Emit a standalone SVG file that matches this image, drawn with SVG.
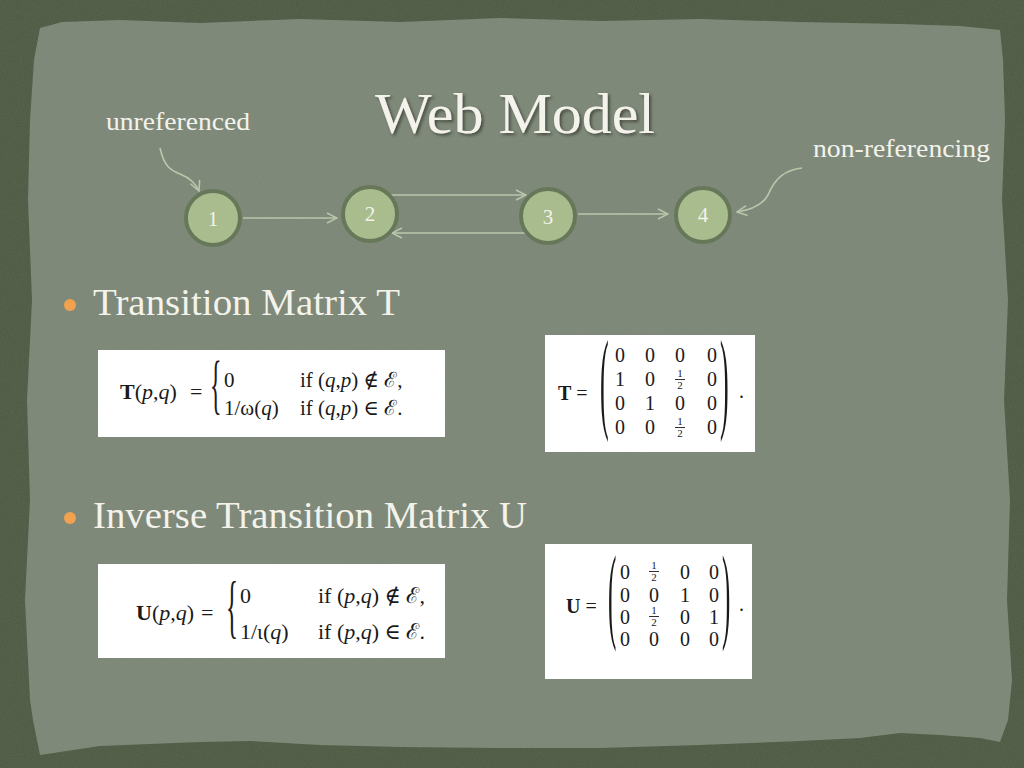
<svg xmlns="http://www.w3.org/2000/svg" width="1024" height="768" viewBox="0 0 1024 768">
<defs>
<style>
.lbl{font-family:"Liberation Serif","DejaVu Serif",serif;fill:#f3f3ec}
.num{font-family:"Liberation Serif","DejaVu Serif",serif;fill:#f3f3ec;font-size:21px;text-anchor:middle}
.node circle{fill:#a8bc8d;stroke:#67785a;stroke-width:4}
.edge{fill:none;stroke:#b9c7ab;stroke-width:1.6}
.box{fill:#ffffff}
.m{font-family:"Liberation Serif","DejaVu Serif",serif;fill:#1a1a1a}
.mc{font-family:"Liberation Serif","DejaVu Serif",serif;fill:#1a1a1a;font-size:20px;text-anchor:middle}
.fr{font-family:"Liberation Serif","DejaVu Serif",serif;fill:#1a1a1a;font-size:11px;text-anchor:middle}
.i{font-style:italic}
.b{font-weight:bold}
</style>
<marker id="ah" viewBox="0 0 12 12" refX="11" refY="6" markerWidth="12" markerHeight="12" markerUnits="userSpaceOnUse" orient="auto">
<path d="M1,1 L11,6 L1,11" fill="none" stroke="#b9c7ab" stroke-width="1.5"/>
</marker>
<filter id="tex" x="0" y="0" width="100%" height="100%">
<feTurbulence type="fractalNoise" baseFrequency="0.9" numOctaves="3" seed="4"/>
<feColorMatrix type="matrix" values="0 0 0 0 0.35  0 0 0 0 0.4  0 0 0 0 0.33  0 0 0 -1.6 1.1"/>
</filter>
<filter id="sh" x="-10%" y="-10%" width="120%" height="130%">
<feDropShadow dx="2" dy="2" stdDeviation="1.5" flood-color="#2f3528" flood-opacity="0.7"/>
</filter>
</defs>

<rect width="1024" height="768" fill="#505c45"/>
<path id="paper" d="M40,28 L62,22 L120,20 L200,23 L300,19 L400,22 L500,18 L600,21 L700,19 L800,22 L900,24 L960,26 L1000,30 L1003,60 L1005,120 L1002,200 L1008,300 L1004,400 L1010,500 L1007,600 L1012,680 L1008,720 L1000,742 L980,738 L940,735 L900,733 L860,738 L800,741 L700,745 L600,748 L500,748 L400,747 L320,745 L250,741 L200,742 L150,744 L100,746 L60,752 L40,755 L33,720 L30,700 L25,600 L30,500 L27,400 L32,300 L28,200 L30,120 L34,60 Z" fill="#7e8878"/>
<rect width="1024" height="768" filter="url(#tex)" opacity="0.12"/>

<text class="lbl" x="375" y="133" font-size="58" filter="url(#sh)" textLength="280" lengthAdjust="spacingAndGlyphs">Web Model</text>
<text class="lbl" x="106" y="130" font-size="26" textLength="144" lengthAdjust="spacingAndGlyphs">unreferenced</text>
<text class="lbl" x="813" y="157" font-size="26" textLength="177" lengthAdjust="spacingAndGlyphs">non-referencing</text>

<g id="connectors">
<path class="edge" d="M243,218 L337,218" marker-end="url(#ah)"/>
<path class="edge" d="M390,195 L526,195" marker-end="url(#ah)"/>
<path class="edge" d="M526,233 L392,233" marker-end="url(#ah)"/>
<path class="edge" d="M578,214 L668,214" marker-end="url(#ah)"/>
<path class="edge" d="M160,148 C164,166 170,170 180,174 C190,178 196,184 199,191" marker-end="url(#ah)"/>
<path class="edge" d="M802,168 C785,170 775,178 768,195 C762,206 750,210 737,212" marker-end="url(#ah)"/>
</g>

<g id="node1" class="node"><circle cx="213" cy="218" r="27"/><text class="num" x="213" y="226">1</text></g>
<g id="node2" class="node"><circle cx="370" cy="214" r="27"/><text class="num" x="370" y="221">2</text></g>
<g id="node3" class="node"><circle cx="548" cy="216" r="27"/><text class="num" x="548" y="224">3</text></g>
<g id="node4" class="node"><circle cx="703" cy="215" r="27"/><text class="num" x="703" y="222">4</text></g>

<circle cx="70" cy="305" r="6" fill="#f2a24e"/>
<text class="lbl" x="93" y="315" font-size="37" textLength="307" lengthAdjust="spacingAndGlyphs">Transition Matrix T</text>
<circle cx="70" cy="518" r="6" fill="#f2a24e"/>
<text class="lbl" x="93" y="528" font-size="37" textLength="434" lengthAdjust="spacingAndGlyphs">Inverse Transition Matrix U</text>

<g id="formulaT">
<rect class="box" x="98" y="350" width="347" height="87"/>
<text class="m" x="120" y="399" font-size="22"><tspan class="b">T</tspan>(<tspan class="i">p</tspan>,<tspan class="i">q</tspan>)</text>
<text class="m" x="190" y="399" font-size="22">=</text>
<text class="m" font-size="24" transform="translate(210,406) scale(1,2.7)">{</text>
<text class="m" x="224" y="387" font-size="21">0</text>
<text class="m" x="300" y="387" font-size="21">if (<tspan class="i">q</tspan>,<tspan class="i">p</tspan>) ∉ ℰ,</text>
<text class="m" x="224" y="415" font-size="21">1/ω(<tspan class="i">q</tspan>)</text>
<text class="m" x="300" y="415" font-size="21">if (<tspan class="i">q</tspan>,<tspan class="i">p</tspan>) ∈ ℰ.</text>
</g>

<g id="matrixT">
<rect class="box" x="545" y="335" width="210" height="117"/>
<text class="m" x="558" y="400" font-size="20"><tspan class="b">T</tspan> =</text>
<text class="m" font-size="26" transform="translate(600,418) scale(1,4.3)">(</text>
<text class="m" font-size="26" transform="translate(720,418) scale(1,4.3)">)</text>
<text class="m" x="739" y="398" font-size="20">.</text>
<text class="mc" x="620" y="362">0</text><text class="mc" x="650" y="362">0</text><text class="mc" x="680" y="362">0</text><text class="mc" x="712" y="362">0</text>
<text class="mc" x="620" y="386">1</text><text class="mc" x="650" y="386">0</text><text class="fr" x="680" y="377">1</text><line x1="675" y1="379.5" x2="685" y2="379.5" stroke="#1a1a1a" stroke-width="0.9"/><text class="fr" x="680" y="389">2</text><text class="mc" x="712" y="386">0</text>
<text class="mc" x="620" y="410">0</text><text class="mc" x="650" y="410">1</text><text class="mc" x="680" y="410">0</text><text class="mc" x="712" y="410">0</text>
<text class="mc" x="620" y="434">0</text><text class="mc" x="650" y="434">0</text><text class="fr" x="680" y="425">1</text><line x1="675" y1="427.5" x2="685" y2="427.5" stroke="#1a1a1a" stroke-width="0.9"/><text class="fr" x="680" y="437">2</text><text class="mc" x="712" y="434">0</text>
</g>

<g id="formulaU">
<rect class="box" x="98" y="564" width="347" height="94"/>
<text class="m" x="136" y="620" font-size="22"><tspan class="b">U</tspan>(<tspan class="i">p</tspan>,<tspan class="i">q</tspan>)</text>
<text class="m" x="201" y="620" font-size="22">=</text>
<text class="m" font-size="25" transform="translate(226,630) scale(1,2.8)">{</text>
<text class="m" x="240" y="603" font-size="22">0</text>
<text class="m" x="318" y="603" font-size="22">if (<tspan class="i">p</tspan>,<tspan class="i">q</tspan>) ∉ ℰ,</text>
<text class="m" x="240" y="639" font-size="22">1/ι(<tspan class="i">q</tspan>)</text>
<text class="m" x="318" y="639" font-size="22">if (<tspan class="i">p</tspan>,<tspan class="i">q</tspan>) ∈ ℰ.</text>
</g>

<g id="matrixU">
<rect class="box" x="545" y="544" width="207" height="135"/>
<text class="m" x="566" y="613" font-size="20"><tspan class="b">U</tspan> =</text>
<text class="m" font-size="25" transform="translate(608,629) scale(1,4.2)">(</text>
<text class="m" font-size="25" transform="translate(722,629) scale(1,4.2)">)</text>
<text class="m" x="739" y="611" font-size="20">.</text>
<text class="mc" x="625" y="579">0</text><text class="fr" x="654" y="569">1</text><line x1="649" y1="571.5" x2="659" y2="571.5" stroke="#1a1a1a" stroke-width="0.9"/><text class="fr" x="654" y="581">2</text><text class="mc" x="685" y="579">0</text><text class="mc" x="714" y="579">0</text>
<text class="mc" x="625" y="602">0</text><text class="mc" x="654" y="602">0</text><text class="mc" x="685" y="602">1</text><text class="mc" x="714" y="602">0</text>
<text class="mc" x="625" y="624">0</text><text class="fr" x="654" y="614">1</text><line x1="649" y1="616.5" x2="659" y2="616.5" stroke="#1a1a1a" stroke-width="0.9"/><text class="fr" x="654" y="626">2</text><text class="mc" x="685" y="624">0</text><text class="mc" x="714" y="624">1</text>
<text class="mc" x="625" y="646">0</text><text class="mc" x="654" y="646">0</text><text class="mc" x="685" y="646">0</text><text class="mc" x="714" y="646">0</text>
</g>
</svg>
